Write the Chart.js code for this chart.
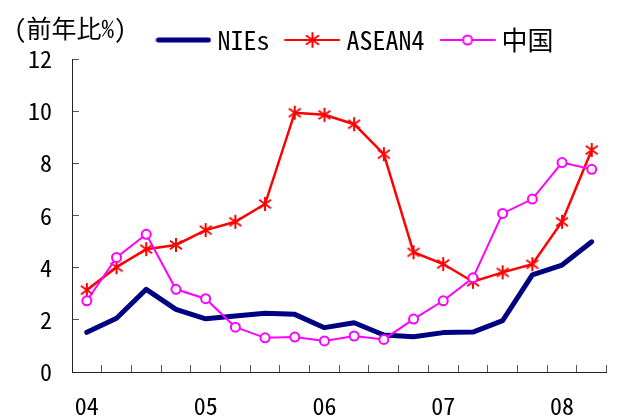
<!DOCTYPE html>
<html lang="ja">
<head>
<meta charset="UTF-8">
<title>NIEs / ASEAN4 / 中国</title>
<script src="https://cdn.jsdelivr.net/npm/chart.js"></script>
<style>
  body { margin: 0; background: #fff; }
  .wrap { position: relative; width: 618px; height: 419px; }
  .unit {
    position: absolute; left: 14px; top: 15px;
    font: 25px/25px 'Noto Sans Mono CJK JP', 'Noto Sans CJK JP', monospace; color: #000;
  }
</style>
</head>
<body>
<div class="wrap">
  <canvas id="chart" width="618" height="419"></canvas>
  <div class="unit">(前年比%)</div>
</div>
<script>
// quarterly, 04Q1 .. 08Q2 (label only on Q1)
const quarters = ['04', '', '', '', '05', '', '', '', '06', '', '', '', '07', '', '', '', '08', ''];
const nies   = [1.52, 2.06, 3.17, 2.40, 2.04, 2.15, 2.25, 2.21, 1.70, 1.89, 1.42, 1.35, 1.51, 1.53, 1.97, 3.72, 4.10, 4.99];
const asean4 = [3.14, 4.02, 4.71, 4.87, 5.44, 5.76, 6.44, 9.94, 9.86, 9.50, 8.35, 4.59, 4.14, 3.46, 3.82, 4.13, 5.76, 8.51];
const china  = [2.73, 4.39, 5.28, 3.17, 2.81, 1.72, 1.31, 1.34, 1.19, 1.38, 1.25, 2.03, 2.73, 3.61, 6.08, 6.63, 8.03, 7.77];
const seriesNames = ['NIEs', 'ASEAN4', '中国'];

const NAVY = '#000080', RED = '#ff0000', PINK = '#ff00ff';
const txtFont = "'Noto Sans Mono CJK JP', 'Noto Sans CJK JP', monospace";

function drawStar(g, cx, cy, r, color) {
    g.strokeStyle = color;
    g.lineWidth = 2;
    g.beginPath();
    g.moveTo(cx, cy - r); g.lineTo(cx, cy + r);
    g.moveTo(cx - r * 0.85, cy - r * 0.6); g.lineTo(cx + r * 0.85, cy + r * 0.6);
    g.moveTo(cx + r * 0.85, cy - r * 0.6); g.lineTo(cx - r * 0.85, cy + r * 0.6);
    g.stroke();
}

function starMarker() {
    const c = document.createElement('canvas');
    c.width = 16; c.height = 16;
    drawStar(c.getContext('2d'), 8, 8, 7, RED);
    return c;
}

// legend swatches: line + marker
function legendIcon(kind) {
    const c = document.createElement('canvas');
    c.width = 56; c.height = 16;
    const g = c.getContext('2d');
    g.lineCap = 'round';
    if (kind === 0) {
        g.strokeStyle = NAVY; g.lineWidth = 5;
        g.beginPath(); g.moveTo(3, 8); g.lineTo(53, 8); g.stroke();
    } else if (kind === 1) {
        g.strokeStyle = RED; g.lineWidth = 2;
        g.beginPath(); g.moveTo(1, 8); g.lineTo(55, 8); g.stroke();
        drawStar(g, 28, 8, 7, RED);
    } else {
        g.strokeStyle = PINK; g.lineWidth = 2;
        g.beginPath(); g.moveTo(1, 8); g.lineTo(55, 8); g.stroke();
        g.fillStyle = '#fff';
        g.beginPath(); g.arc(28, 8, 4.5, 0, Math.PI * 2); g.fill(); g.stroke();
    }
    return c;
}
const icons = [legendIcon(0), legendIcon(1), legendIcon(2)];

// legend sits right of centre and a bit tighter than Chart.js default
const legendNudge = {
    id: 'legendNudge',
    afterInit(chart) {
        const lg = chart.legend;
        const fit = lg.fit;
        lg.fit = function () { fit.call(this); this.height -= 4; };
    },
    afterLayout(chart) {
        chart.legend.left += 52;
        chart.legend.right += 52;
    }
};

new Chart(document.getElementById('chart'), {
    type: 'line',
    data: {
        labels: quarters,
        datasets: [
            {
                label: seriesNames[0], data: nies, borderColor: NAVY, borderWidth: 5,
                pointRadius: 0, borderCapStyle: 'round', borderJoinStyle: 'round', order: 3
            },
            {
                label: seriesNames[1], data: asean4, borderColor: RED, borderWidth: 2.5,
                pointStyle: starMarker(), pointRadius: 7, order: 2
            },
            {
                label: seriesNames[2], data: china, borderColor: PINK, borderWidth: 2,
                pointStyle: 'circle', pointRadius: 4.5, pointBorderWidth: 2,
                pointBackgroundColor: '#fff', pointBorderColor: PINK, order: 1
            }
        ]
    },
    options: {
        responsive: false,
        animation: false,
        layout: { padding: { left: 0, right: 6, top: 5, bottom: 0 } },
        plugins: {
            tooltip: { enabled: false },
            legend: {
                position: 'top',
                labels: {
                    usePointStyle: true,
                    pointStyleWidth: 42,
                    padding: 22,
                    color: '#000',
                    font: { family: txtFont, size: 26 },
                    generateLabels(chart) {
                        return chart.data.datasets.map((ds, i) => ({
                            text: ds.label,
                            pointStyle: icons[i],
                            fillStyle: ds.borderColor,
                            strokeStyle: ds.borderColor,
                            lineWidth: 0,
                            hidden: false,
                            datasetIndex: i,
                            fontColor: '#000'
                        }));
                    }
                }
            }
        },
        scales: {
            x: {
                offset: true,
                grid: { offset: true, drawOnChartArea: false, tickLength: -7, color: '#555' },
                border: { color: '#222', width: 1 },
                ticks: {
                    autoSkip: false, maxRotation: 0, padding: 26, color: '#000',
                    font: { family: txtFont, size: 24 }
                },
                afterFit(scale) { scale.height = 47; }
            },
            y: {
                min: 0, max: 12,
                grid: { drawOnChartArea: false, tickLength: -7, color: '#555' },
                border: { color: '#222', width: 1 },
                ticks: {
                    stepSize: 2, padding: 27, color: '#000',
                    font: { family: txtFont, size: 24 }
                },
                afterFit(scale) { scale.width = 72; }
            }
        }
    },
    plugins: [legendNudge]
});
</script>
</body>
</html>
